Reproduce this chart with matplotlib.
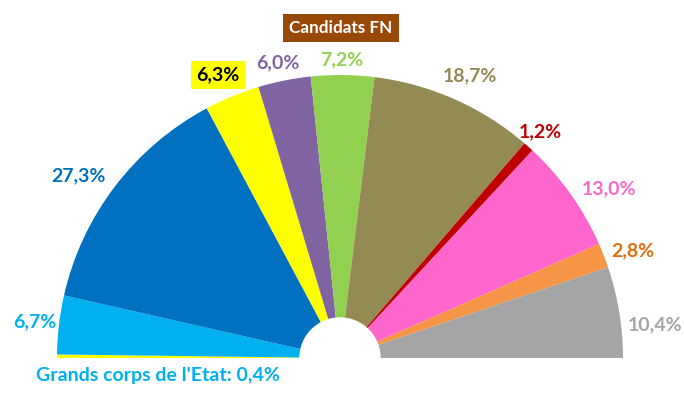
import numpy as np
import matplotlib.pyplot as plt

# shares, left to right along the half circle
labels = ["Grands corps de l'Etat: 0,4%", "6,7%", "27,3%", "6,3%", "6,0%", "7,2%",
          "18,7%", "1,2%", "13,0%", "2,8%", "10,4%"]
values = [0.4, 6.7, 27.3, 6.3, 6.0, 7.2, 18.7, 1.2, 13.0, 2.8, 10.4]
colors = ["#FFFF00", "#00B0F0", "#0070C0", "#FFFF00", "#8064A2", "#92D050",
          "#948A54", "#C00000", "#FF66CC", "#F79646", "#A5A5A5"]
label_colors = ["#00B0F0", "#00B0F0", "#0070C0", "#000000", "#8064A2", "#92D050",
                "#948A54", "#C00000", "#FF66CC", "#E46C0A", "#A5A5A5"]
# label anchor pixels (x, y from top)
label_px = [(158, 376), (35, 322), (78, 176), (218, 75), (278, 63), (342, 60),
            (470, 76), (540, 132), (609, 189), (633, 251), (655, 325)]

W, H = 684, 396
cx, cy, R, r_in = 340, 358, 283, 40

fig = plt.figure(figsize=(W / 100, H / 100), dpi=100)
ax = fig.add_axes([0, 0, 1, 1])

# pie over a full circle: the second half is left blank
ax.pie(values + [sum(values)], colors=colors + ["none"], radius=1,
       startangle=180, counterclock=False, center=(0, 0), frame=True,
       wedgeprops=dict(linewidth=0))
ax.set_xlim(-cx / R, (W - cx) / R)
ax.set_ylim(-(H - cy) / R, cy / R)
ax.set_aspect("auto")
ax.axis("off")
ax.add_patch(plt.Circle((0, 0), r_in / R, color="white", zorder=5))


def px(x, y):
    return (x - cx) / R, (cy - y) / R


font = "Lato"
for i, lab in enumerate(labels):
    x, y = px(*label_px[i])
    kw = dict(ha="center", va="center", fontsize=14, fontweight="bold",
              family=font, color=label_colors[i])
    if i == 3:
        kw["bbox"] = dict(boxstyle="square,pad=0.3", fc="#FFFF00", ec="none")
    ax.text(x, y, lab, **kw)

x, y = px(341, 28)
ax.text(x, y, "Candidats FN", ha="center", va="center", fontsize=12.3,
        fontweight="bold", family=font, color="white",
        bbox=dict(boxstyle="square,pad=0.35", fc="#984807", ec="none"))

fig.savefig("out.png", dpi=100)
